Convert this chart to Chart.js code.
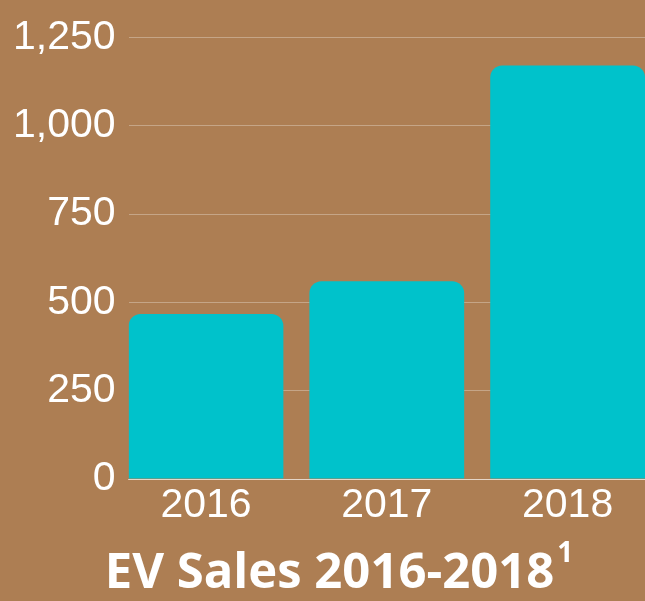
<!DOCTYPE html>
<html>
<head>
<meta charset="utf-8">
<script src="https://cdn.jsdelivr.net/npm/chart.js@4"></script>
<style>
  html, body { margin: 0; padding: 0; background: #ad7e53; }
  #wrap { width: 645px; height: 601px; }
</style>
</head>
<body>
<div id="wrap"><canvas id="evChart" width="645" height="601"></canvas></div>
<script>
const years = ['2016', '2017', '2018'];
const sales = [467, 560, 1171];
const yTicks = [0, 250, 500, 750, 1000, 1250];
const titleText = 'EV Sales 2016-2018';
const titleNote = '1';

// bottom title with its superscript note
const bottomTitle = {
  id: 'bottomTitle',
  afterDraw(chart) {
    const c = chart.ctx;
    c.save();
    c.fillStyle = '#ffffff';
    c.textBaseline = 'alphabetic';
    c.textAlign = 'left';
    c.font = 'bold 49px "Open Sans"';
    const w = c.measureText(titleText).width;
    const x0 = chart.width / 2 + 7 - w / 2;
    c.fillText(titleText, x0, 588);
    c.font = 'bold 28px "Open Sans"';
    c.fillText(titleNote, x0 + w + 3, 562);
    c.restore();
  }
};

new Chart(document.getElementById('evChart'), {
  type: 'bar',
  data: {
    datasets: [{
      data: sales.map((v, i) => ({ x: i, y: v })),
      backgroundColor: '#00c2cb',
      borderRadius: 12,
      borderSkipped: 'bottom',
      barPercentage: 0.856,
      categoryPercentage: 1
    }]
  },
  options: {
    responsive: false,
    animation: false,
    layout: { padding: { top: 2, right: 0, bottom: 77, left: 0 } },
    plugins: {
      legend: { display: false },
      tooltip: { enabled: false }
    },
    scales: {
      x: {
        type: 'linear',
        offset: false,
        min: -0.428,
        max: 2.428,
        afterBuildTicks: (axis) => { axis.ticks = years.map((y, i) => ({ value: i })); },
        grid: { display: false },
        border: { display: true, color: 'rgba(255,255,255,0.55)', width: 1 },
        ticks: {
          color: '#ffffff',
          font: { family: '"Liberation Sans", Arial, sans-serif', size: 41, lineHeight: 1 },
          padding: -2,
          maxRotation: 0,
          callback: (v) => years[v]
        }
      },
      y: {
        min: 0,
        max: 1250,
        afterBuildTicks: (axis) => { axis.ticks = yTicks.map(v => ({ value: v })); },
        grid: { color: 'rgba(255,255,255,0.3)', drawTicks: false },
        border: { display: false },
        ticks: {
          color: '#ffffff',
          font: { family: '"Liberation Sans", Arial, sans-serif', size: 41 },
          padding: 13,
          callback: (v) => v.toLocaleString('en-US')
        }
      }
    }
  },
  plugins: [bottomTitle]
});
</script>
</body>
</html>
